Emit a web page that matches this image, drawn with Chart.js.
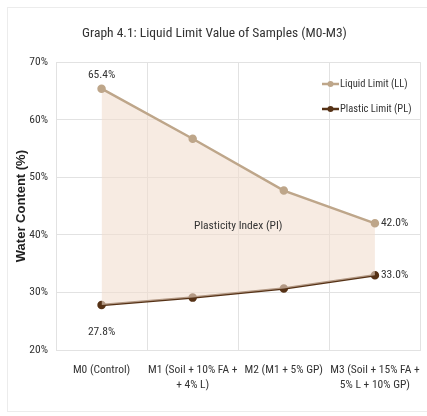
<!DOCTYPE html>
<html>
<head>
<meta charset="utf-8">
<script src="https://cdn.jsdelivr.net/npm/chart.js@4"></script>
<style>
  html, body { margin: 0; padding: 0; background: #fff; }
  #wrap { width: 427px; height: 416px; }
</style>
</head>
<body>
<div id="wrap"><canvas id="lineGraph"></canvas></div>
<script>
const samples = [
    "M0 (Control)",
    ["M1 (Soil + 10% FA +", "+ 4% L)"],
    "M2 (M1 + 5% GP)",
    ["M3 (Soil + 15% FA +", "5% L + 10% GP)"]
];
const liquidLimit = [65.4, 56.7, 47.7, 42.0];
const plasticLimit = [27.8, 29.1, 30.7, 33.0];
const yTicks = [20, 30, 40, 50, 60, 70];

const narrow = "'Roboto Condensed', sans-serif";
const llColor = 'rgb(190, 166, 138)';
const plColor = 'rgb(86, 50, 22)';

// frame, value labels, PI text and the legend inside the plot
const extras = {
    id: 'extras',
    beforeDraw(chart) {
        const ctx = chart.ctx;
        ctx.save();
        ctx.strokeStyle = '#ececec';
        ctx.lineWidth = 1;
        ctx.strokeRect(7.5, 7.5, 430, 404);
        ctx.restore();
    },
    afterDatasetsDraw(chart) {
        const ctx = chart.ctx;
        const ll = chart.getDatasetMeta(0).data;
        const pl = chart.getDatasetMeta(1).data;
        const area = chart.chartArea;
        ctx.save();
        ctx.fillStyle = '#333';
        ctx.font = '11.5px ' + narrow;
        ctx.textBaseline = 'middle';
        ctx.textAlign = 'center';
        ctx.fillText(liquidLimit[0].toFixed(1) + '%', ll[0].x, ll[0].y - 14);
        ctx.fillText(plasticLimit[0].toFixed(1) + '%', pl[0].x, pl[0].y + 27);
        ctx.textAlign = 'left';
        ctx.fillText(liquidLimit[3].toFixed(1) + '%', ll[3].x + 6, ll[3].y);
        ctx.fillText(plasticLimit[3].toFixed(1) + '%', pl[3].x + 6, pl[3].y);

        ctx.textAlign = 'center';
        ctx.fillText('Plasticity Index (PI)', (area.left + area.right) / 2, chart.scales.y.getPixelForValue(41.6));

        // legend
        const items = chart.data.datasets;
        let y = 84;
        ctx.font = '10.5px ' + narrow;
        ctx.textAlign = 'left';
        items.forEach(ds => {
            const x0 = 322;
            ctx.strokeStyle = ds.borderColor;
            ctx.lineWidth = 2.5;
            ctx.beginPath();
            ctx.moveTo(x0, y);
            ctx.lineTo(x0 + 17, y);
            ctx.stroke();
            ctx.fillStyle = ds.borderColor;
            ctx.beginPath();
            ctx.arc(x0 + 8.5, y, 3, 0, Math.PI * 2);
            ctx.fill();
            ctx.fillStyle = '#333';
            ctx.fillText(ds.label, x0 + 18, y);
            y += 25;
        });
        ctx.restore();
    }
};

document.addEventListener('DOMContentLoaded', () => {
    const ctx = document.getElementById("lineGraph").getContext("2d");
    const config = {
        type: 'line',
        data: {
            labels: samples,
            datasets: [
                {
                    label: 'Liquid Limit (LL)',
                    data: liquidLimit,
                    borderColor: llColor,
                    backgroundColor: 'rgba(242, 222, 206, 0.6)',
                    pointBackgroundColor: llColor,
                    pointBorderColor: llColor,
                    pointRadius: 3,
                    borderWidth: 2.5,
                    fill: '+1',
                    tension: 0
                },
                {
                    label: 'Plastic Limit (PL)',
                    data: plasticLimit,
                    borderColor: plColor,
                    pointBackgroundColor: plColor,
                    pointBorderColor: plColor,
                    pointRadius: 3,
                    borderWidth: 2.5,
                    fill: false,
                    tension: 0
                }
            ]
        },
        options: {
            responsive: true,
            maintainAspectRatio: false,
            animation: false,
            layout: { padding: { left: 8, right: 6, top: 0, bottom: 8 } },
            scales: {
                x: {
                    offset: true,
                    grid: { color: '#e2e2e2', drawTicks: false, offset: true },
                    border: { color: '#e2e2e2' },
                    ticks: {
                        color: '#333',
                        font: { family: narrow, size: 11.5, lineHeight: 1.3 },
                        padding: 13,
                        maxRotation: 0,
                        autoSkip: false
                    },
                    afterFit(scale) {
                        scale.height = 58;
                        scale.paddingLeft = 0;
                        scale.paddingRight = 0;
                    }
                },
                y: {
                    min: 20,
                    max: 70,
                    afterBuildTicks(scale) { scale.ticks = yTicks.map(v => ({ value: v })); },
                    grid: { color: '#e2e2e2', drawTicks: false },
                    border: { color: '#e2e2e2' },
                    ticks: {
                        color: '#333',
                        font: { family: narrow, size: 11.5 },
                        padding: 8,
                        callback: v => v + '%'
                    },
                    title: {
                        display: true,
                        text: 'Water Content (%)',
                        color: '#222',
                        font: { family: "'Liberation Sans', Arial, sans-serif", size: 13, weight: 'bold' },
                        padding: { top: 6, bottom: 0 }
                    },
                    afterFit(scale) { scale.width = 48; }
                }
            },
            plugins: {
                legend: { display: false },
                tooltip: { enabled: false },
                title: {
                    display: true,
                    text: 'Graph 4.1: Liquid Limit Value of Samples (M0-M3)',
                    color: '#333',
                    font: { family: narrow, size: 13.5, weight: 'normal' },
                    padding: { top: 26, bottom: 20 }
                }
            }
        },
        plugins: [extras]
    };
    new Chart(ctx, config);
});
</script>
</body>
</html>
